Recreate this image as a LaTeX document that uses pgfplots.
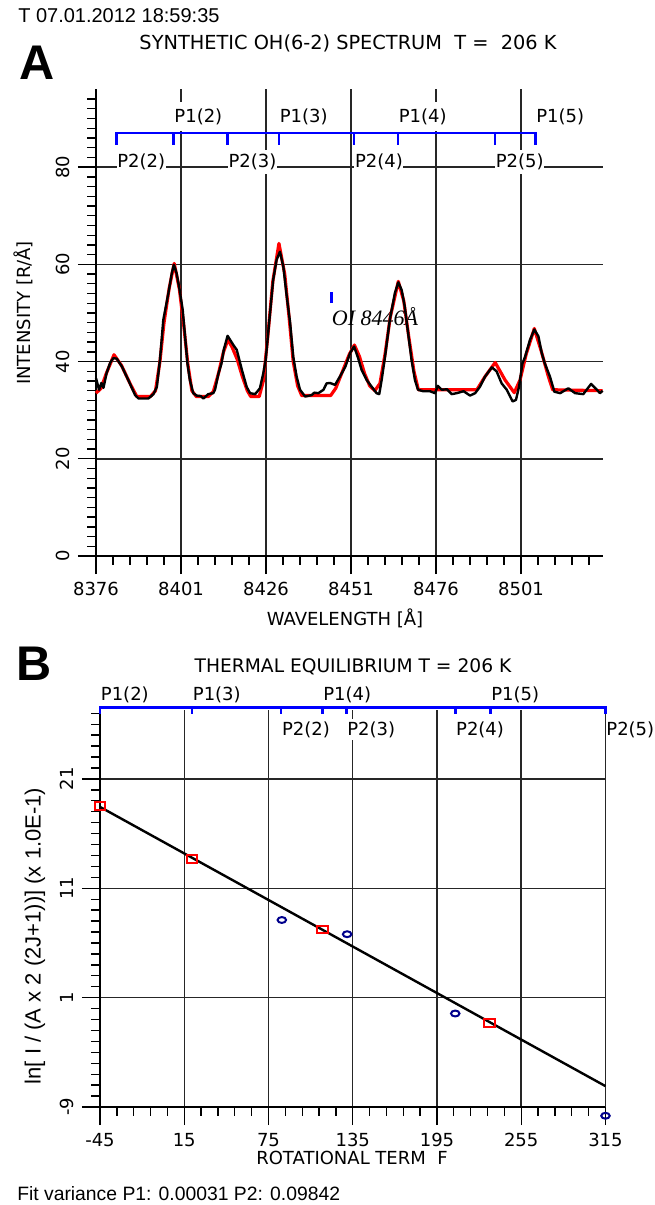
\documentclass[border=0pt]{standalone}
\usepackage{fontspec}
\setmainfont{Liberation Sans}
\newfontfamily\comic{DejaVu Sans}
\newfontfamily\tnr{Liberation Serif}
\usepackage{pgfplots}
\pgfplotsset{compat=1.18}
\definecolor{navy}{rgb}{0,0,0.55}
\newcommand\cf{\comic\fontsize{13.5}{16}\selectfont}

\pgfplotsset{
  oh/.style={
    scale only axis, axis x line=bottom, axis y line=left,
    axis line style={-, line width=1.2pt},
    tick align=outside, major tick length=13.5pt, minor tick length=6.5pt,
    tick style={black, line width=1pt},
    grid=major, grid style={black!85, line width=1.1pt},
    tick label style={font=\cf, inner sep=0pt},
    xticklabel style={anchor=north, yshift=-6pt},
    yticklabel style={rotate=90, anchor=south, yshift=6pt},
    clip=false,
  },
}
\tikzset{
  plab/.style={font=\cf, fill=white, inner xsep=0.5pt, inner ysep=5pt, anchor=west},
  qlab/.style={font=\cf, fill=white, inner xsep=0.5pt, inner ysep=3pt, anchor=west},
}

\begin{document}
\begin{tikzpicture}
\useasboundingbox (0,0) rectangle (490.5pt,-903.75pt);

% header and panel texts
\node[anchor=base west, inner sep=0pt, font=\fontsize{15}{18}\selectfont] at (13.5pt,-17pt) {T 07.01.2012 18:59:35};
\node[anchor=base, inner sep=0pt, font=\comic\fontsize{14.5}{17}\selectfont] at (261pt,-37.5pt) {SYNTHETIC OH(6-2) SPECTRUM\ \ T =\ \ 206 K};
\node[anchor=base west, inner sep=0pt, font=\bfseries\fontsize{36.5}{40}\selectfont] at (14.5pt,-60pt) {A};
\node[rotate=90, font=\cf] at (17.25pt,-234.75pt) {INTENSITY [R/Å]};
\node[font=\cf] at (258.75pt,-463.5pt) {WAVELENGTH [Å]};

\node[anchor=base west, inner sep=0pt, font=\bfseries\fontsize{36.5}{40}\selectfont] at (12pt,-510pt) {B};
\node[font=\comic\fontsize{14}{17}\selectfont] at (264.75pt,-500.25pt) {THERMAL EQUILIBRIUM T = 206 K};
\node[rotate=90, font=\fontsize{16.5}{19}\selectfont] at (26.25pt,-702pt) {ln[ I / (A x 2 (2J+1))] (x 1.0E-1)};
\node[font=\cf] at (264pt,-868.5pt) {ROTATIONAL TERM\ \ F};
\node[anchor=base west, inner sep=0pt, font=\fontsize{14.5}{17}\selectfont] at (12.75pt,-900.5pt) {Fit variance P1: 0.00031 P2: 0.09842};

% ---------------- panel A: spectrum
\begin{axis}[oh, at={(72pt,-417pt)}, anchor=south west, width=380.25pt, height=350pt,
  xmin=8376, xmax=8525.1, ymin=0, ymax=96,
  xtick={8376,8401,8426,8451,8476,8501}, xticklabels={8376,8401,8426,8451,8476,8501},
  minor xtick={8381,8386,...,8521},
  ytick={0,20,40,60,80}, yticklabels={0,20,40,60,80},
  minor ytick={2,4,...,94}]

% line identification bracket
\addplot[blue, line width=2pt] coordinates {(8382.0,84.6)(8382.0,87)(8505.2,87)(8505.2,84.6)};
\addplot[blue, line width=2pt] coordinates {(8398.8,87)(8398.8,84.6)};
\addplot[blue, line width=2pt] coordinates {(8414.7,87)(8414.7,84.6)};
\addplot[blue, line width=2pt] coordinates {(8429.8,87)(8429.8,84.6)};
\addplot[blue, line width=2pt] coordinates {(8451.9,87)(8451.9,84.6)};
\addplot[blue, line width=2pt] coordinates {(8464.8,87)(8464.8,84.6)};
\addplot[blue, line width=2pt] coordinates {(8493.3,87)(8493.3,84.6)};
\node[plab] at (axis cs:8398.8,90.4) {P1(2)};
\node[plab] at (axis cs:8429.8,90.4) {P1(3)};
\node[plab] at (axis cs:8464.8,90.4) {P1(4)};
\node[plab] at (axis cs:8505.2,90.4) {P1(5)};
\node[qlab] at (axis cs:8382.0,81.1) {P2(2)};
\node[qlab] at (axis cs:8414.7,81.1) {P2(3)};
\node[qlab] at (axis cs:8451.9,81.1) {P2(4)};
\node[qlab] at (axis cs:8493.3,81.1) {P2(5)};

% OI marker
\addplot[blue, line width=1.8pt] coordinates {(8445.3,52.0)(8445.3,54.4)};
\node[anchor=west, inner sep=0pt, font=\tnr\itshape\fontsize{16.5}{19}\selectfont] at (axis cs:8445.3,49.2) {OI 8446Å};

% synthetic spectrum
\addplot[red, line width=2.4pt, line join=round] coordinates {
(8376.0,33.5)(8377.5,34.5)(8379.0,37.5)(8381.3,41.4)(8383.5,39.2)(8386.0,35.5)
(8388.0,32.8)(8392.0,32.8)(8393.5,34.0)(8394.8,40.0)(8396.0,48.0)(8397.5,55.0)
(8399.0,60.2)(8400.5,55.0)(8401.8,47.5)(8403.0,39.5)(8404.2,34.0)(8405.5,32.8)
(8409.0,32.8)(8410.5,33.8)(8412.0,37.5)(8413.5,42.0)(8414.8,44.5)(8416.0,43.0)
(8417.5,40.5)(8419.0,37.0)(8420.5,34.0)(8421.5,32.8)(8424.0,32.8)(8425.2,36.0)
(8426.5,45.0)(8428.0,56.5)(8429.8,64.3)(8431.5,58.0)(8432.8,49.0)(8434.0,40.0)
(8435.3,35.0)(8436.5,33.0)(8445.0,33.0)(8446.5,34.5)(8448.5,38.0)(8450.5,41.5)
(8452.0,43.4)(8453.5,41.0)(8455.0,37.5)(8456.5,35.0)(8458.0,34.0)(8459.5,35.5)
(8461.0,41.5)(8462.5,49.0)(8464.9,56.5)(8466.5,52.5)(8468.0,45.0)(8469.5,38.0)
(8470.8,34.2)(8488.0,34.2)(8490.4,36.9)(8493.4,39.8)(8496.3,36.2)(8499.0,33.6)
(8500.7,36.2)(8502.5,41.5)(8504.9,46.8)(8507.0,42.0)(8509.0,37.0)(8510.3,34.2)
(8525.0,34.0)};

% measured spectrum
\addplot[black, line width=1.8pt, line join=round] coordinates {
(8376.0,36.6)(8376.9,34.2)(8377.6,35.6)(8378.2,34.6)(8379.1,37.6)(8380.2,39.8)
(8381.1,40.7)(8382.1,40.6)(8383.6,39.0)(8385.5,36.2)(8387.5,33.1)(8388.5,32.4)
(8391.4,32.4)(8392.9,33.3)(8393.9,34.8)(8394.8,40.3)(8395.8,48.6)(8397.3,54.1)
(8398.3,58.2)(8398.9,59.9)(8399.7,58.2)(8400.6,54.7)(8401.5,50.6)(8402.2,45.1)
(8402.9,39.6)(8403.6,36.2)(8404.6,33.5)(8405.6,33.0)(8406.8,32.9)(8407.6,32.4)
(8409.0,33.3)(8410.5,33.5)(8411.0,34.2)(8412.0,37.5)(8412.9,39.6)(8413.6,42.5)
(8414.7,45.3)(8416.4,43.4)(8417.4,42.4)(8418.9,38.3)(8420.3,34.8)(8421.3,33.5)
(8422.8,33.3)(8424.2,34.5)(8425.2,37.6)(8425.9,40.3)(8426.9,47.9)(8428.1,56.8)
(8429.1,60.9)(8430.1,62.6)(8431.1,59.5)(8432.1,53.4)(8433.1,47.9)(8434.0,41.0)
(8435.0,36.9)(8436.0,34.2)(8437.5,32.8)(8439.4,33.1)(8440.2,33.6)(8441.4,33.5)
(8442.9,34.2)(8443.8,35.5)(8444.8,35.6)(8446.3,35.2)(8447.8,37.0)(8449.3,38.9)
(8450.7,41.7)(8451.9,43.1)(8453.1,40.7)(8454.1,38.3)(8455.6,36.2)(8457.1,34.8)
(8458.5,33.5)(8459.3,33.3)(8460.0,36.2)(8461.0,41.0)(8462.4,48.6)(8463.9,54.1)
(8464.9,56.3)(8465.9,54.7)(8466.8,51.3)(8467.8,45.8)(8468.8,40.3)(8469.8,36.2)
(8470.7,34.2)(8472.2,33.9)(8474.2,33.9)(8475.7,33.5)(8476.5,35.0)(8477.7,34.2)
(8479.2,34.3)(8480.6,33.3)(8482.1,33.5)(8484.1,33.9)(8486.0,33.0)(8487.5,33.5)
(8488.9,34.8)(8490.4,36.9)(8492.4,38.8)(8493.8,38.0)(8495.3,35.5)(8496.8,34.2)
(8497.8,32.8)(8498.5,31.8)(8499.5,32.1)(8500.4,34.8)(8501.4,39.6)(8502.2,41.0)
(8503.6,44.4)(8504.9,46.6)(8506.1,45.2)(8507.1,41.7)(8508.0,39.6)(8509.5,36.9)
(8510.8,33.8)(8512.5,33.5)(8514.9,34.5)(8516.9,33.5)(8519.3,33.3)(8521.6,35.4)
(8523.3,34.2)(8524.2,33.5)(8525.0,34.0)};
\end{axis}

% ---------------- panel B: Boltzmann plot
\begin{axis}[oh, at={(75pt,-830.25pt)}, anchor=south west, width=379.1pt, height=297.75pt,
  xmin=-45, xmax=315, ymin=-9, ymax=27.3,
  xtick={-45,15,75,135,195,255,315}, xticklabels={-45,15,75,135,195,255,315},
  minor xtick={-33,-21,...,303},
  ytick={-9,1,11,21}, yticklabels={-9,1,11,21},
  minor ytick={-8,-7,...,27}]

\addplot[blue, line width=2pt] coordinates {(-45,26.95)(-45,27.5)(315,27.5)(315,26.95)};
\addplot[blue, line width=2pt] coordinates {(20.5,27.5)(20.5,26.95)};
\addplot[blue, line width=2pt] coordinates {(84,27.5)(84,26.95)};
\addplot[blue, line width=2pt] coordinates {(113.4,27.5)(113.4,26.95)};
\addplot[blue, line width=2pt] coordinates {(130.5,27.5)(130.5,26.95)};
\addplot[blue, line width=2pt] coordinates {(208,27.5)(208,26.95)};
\addplot[blue, line width=2pt] coordinates {(233,27.5)(233,26.95)};
\node[font=\cf, inner xsep=0.5pt, inner ysep=0pt, anchor=west] at (axis cs:-45,28.7) {P1(2)};
\node[font=\cf, inner xsep=0.5pt, inner ysep=0pt, anchor=west] at (axis cs:20.5,28.7) {P1(3)};
\node[font=\cf, inner xsep=0.5pt, inner ysep=0pt, anchor=west] at (axis cs:113.4,28.7) {P1(4)};
\node[font=\cf, inner xsep=0.5pt, inner ysep=0pt, anchor=west] at (axis cs:233,28.7) {P1(5)};
\node[font=\cf, fill=white, inner xsep=0.5pt, inner ysep=2pt, anchor=west] at (axis cs:84,25.5) {P2(2)};
\node[font=\cf, fill=white, inner xsep=0.5pt, inner ysep=2pt, anchor=west] at (axis cs:130.5,25.5) {P2(3)};
\node[font=\cf, fill=white, inner xsep=0.5pt, inner ysep=2pt, anchor=west] at (axis cs:208,25.5) {P2(4)};
\node[font=\cf, fill=white, inner xsep=0.5pt, inner ysep=2pt, anchor=west] at (axis cs:315,25.5) {P2(5)};

% linear fit
\addplot[black, line width=1.8pt] coordinates {(-45,18.44)(315,-7.09)};
% P1 branch
\addplot[only marks, mark=square, mark size=2.9pt, mark options={red, line width=1.5pt, xscale=1.4}] coordinates {
(-45,18.5)(20.5,13.65)(113.4,7.23)(232.6,-1.31)};
% P2 branch
\addplot[only marks, mark=o, mark size=2.2pt, mark options={navy, line width=1.5pt, xscale=1.45}] coordinates {
(84.5,8.1)(131,6.8)(208,-0.45)(315,-9.8)};
\end{axis}
\end{tikzpicture}
\end{document}
